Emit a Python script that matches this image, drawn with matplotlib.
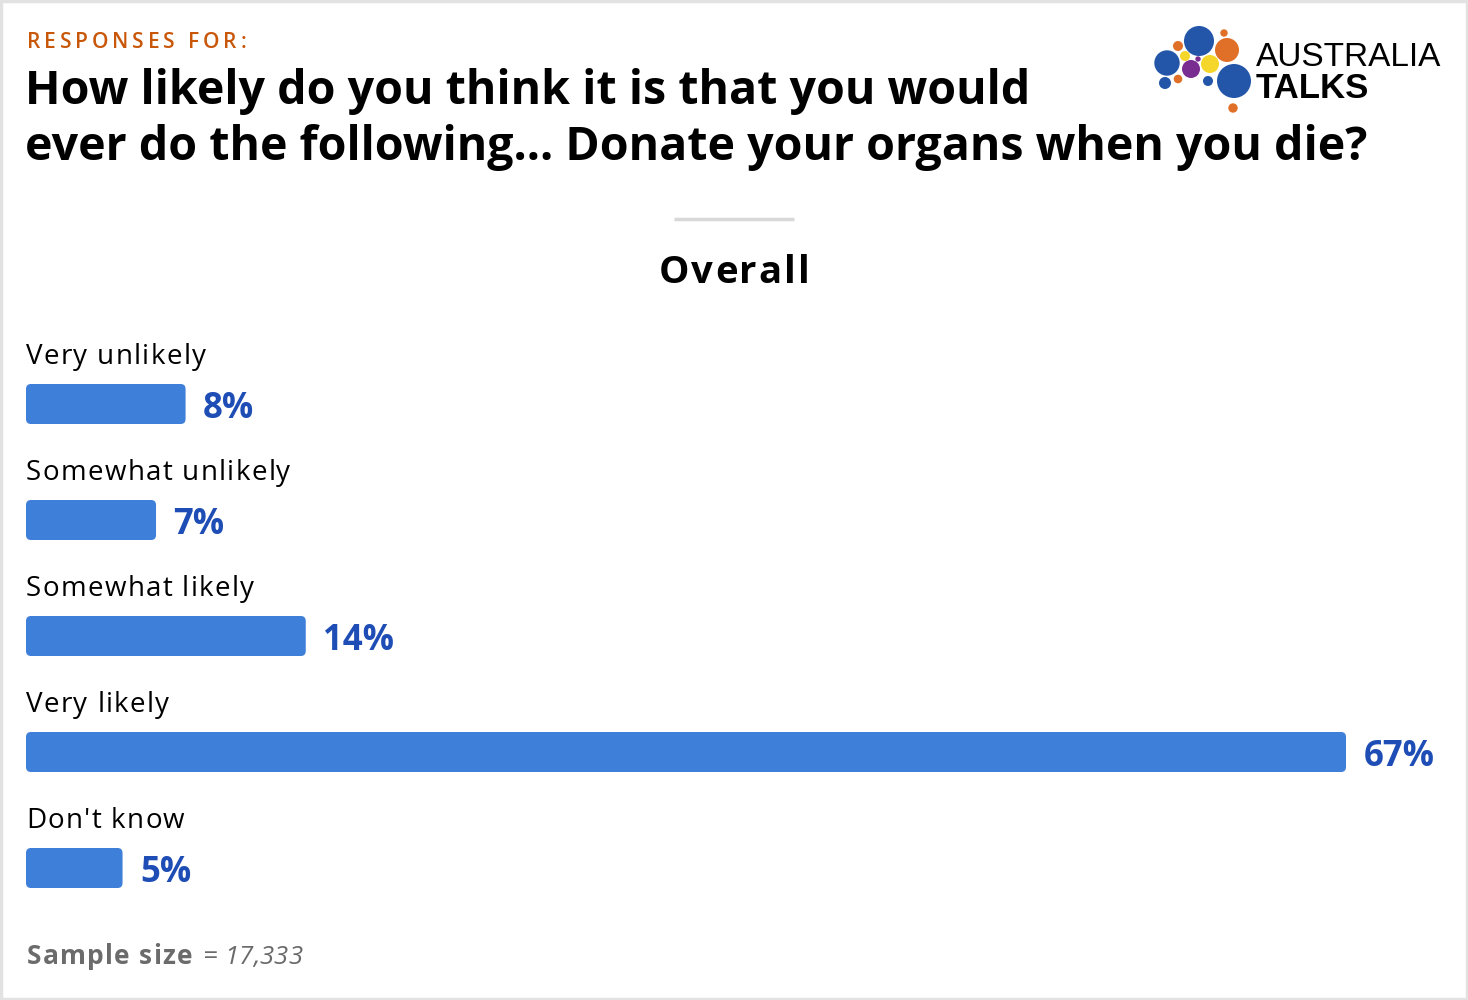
import numpy as np
import matplotlib
matplotlib.use('Agg')
import matplotlib.pyplot as plt
from matplotlib.patches import FancyBboxPatch, Circle, Rectangle
from matplotlib.font_manager import FontProperties
from matplotlib.textpath import TextToPath

# data
categories = ['Very unlikely', 'Somewhat unlikely', 'Somewhat likely', 'Very likely', "Don't know"]
values = [8.1, 6.6, 14.2, 67.0, 4.9]
sample_size = '17,333'

W, H = 1468, 1000
DPI = 100
BAR_COLOR = '#3d7fd9'
LABEL_COLOR = '#1d4db5'
FONT = 'Open Sans'

fig = plt.figure(figsize=(W / DPI, H / DPI), dpi=DPI)
fig.patch.set_facecolor('white')

# overlay axes in pixel units for all the decorations
ax0 = fig.add_axes([0, 0, 1, 1])
ax0.set_xlim(0, W)
ax0.set_ylim(H, 0)
ax0.axis('off')
ax0.add_patch(Rectangle((1, 1), W - 2, H - 2, fill=False, ec='#e2e2e2', lw=2.5))

t2p = TextToPath()


def spaced_text(x, y, s, size, spacing, weight='normal', style='normal', **kw):
    # draw letter by letter to get tracking, returns end x
    prop = FontProperties(family=FONT, weight=weight, style=style, size=size)
    for ch in s:
        ax0.text(x, y, ch, fontproperties=prop, va='baseline', ha='left', **kw)
        w, _, _ = t2p.get_text_width_height_descent(ch, prop, ismath=False)
        x += w * DPI / 72 + spacing
    return x - spacing


def spaced_width(s, size, spacing, weight='normal'):
    prop = FontProperties(family=FONT, weight=weight, size=size)
    tot = 0
    for ch in s:
        w, _, _ = t2p.get_text_width_height_descent(ch, prop, ismath=False)
        tot += w * DPI / 72 + spacing
    return tot - spacing


# header
spaced_text(27, 48, 'RESPONSES FOR:', 15, 3.9, color='#c8570a', weight='semibold')
ax0.text(25, 104, 'How likely do you think it is that you would', fontsize=33.5, fontweight='bold',
         family=FONT, va='baseline', color='black')
ax0.text(25, 160, 'ever do the following... Donate your organs when you die?', fontsize=33.5,
         fontweight='bold', family=FONT, va='baseline', color='black')

# logo
circles = [(1199, 41, 15, '#2356a8'), (1227, 50, 12, '#e07028'), (1224, 33, 3.7, '#e07028'),
           (1178, 46, 5, '#e07028'), (1167, 63, 12.7, '#2356a8'), (1185, 56, 5, '#f5d62a'),
           (1198, 59, 2.7, '#7a2d90'), (1210, 64, 9, '#f5d62a'), (1191, 69, 9, '#7a2d90'),
           (1234, 81, 17, '#2356a8'), (1165, 83, 6, '#2356a8'), (1178, 79, 4.3, '#e07028'),
           (1208, 81, 5, '#2356a8'), (1233, 108, 4.7, '#e07028')]
for cx, cy, r, c in circles:
    ax0.add_patch(Circle((cx, cy), r, color=c, lw=0))
ax0.text(1256, 66, 'AUSTRALIA', fontsize=24, family='Liberation Sans',
         va='baseline', color='black')
ax0.text(1256, 98, 'TALKS', fontsize=25, family='Liberation Sans', fontweight='bold',
         va='baseline', color='black')

# divider and panel title
ax0.plot([674, 794], [219, 219], color='#d8d8d8', lw=2.5, solid_capstyle='butt')
ow = spaced_width('Overall', 27.5, 2.0, weight='bold')
spaced_text(734 - ow / 2, 283, 'Overall', 27.5, 2.0, color='black', weight='bold')

# bars
x0, x1 = 26, 1446
top, bot = 346, 926
ax = fig.add_axes([x0 / W, 1 - bot / H, (x1 - x0) / W, (bot - top) / H])
xmax = 67.0 * (x1 - x0) / 1320
ax.set_xlim(0, xmax)
ax.set_ylim(len(categories) - 0.5, -0.5)
ax.axis('off')

bar_h = 40 / 116
px_x = (x1 - x0) / xmax
px_y = 116.0
for i, (cat, v) in enumerate(zip(categories, values)):
    box = FancyBboxPatch((0, i - bar_h / 2), v, bar_h,
                         boxstyle='round,pad=0,rounding_size=%f' % (5 / px_x),
                         mutation_aspect=px_x / px_y, fc=BAR_COLOR, ec='none')
    ax.add_patch(box)
    ax.annotate('%d%%' % round(v), xy=(v, i), xytext=(12.5, 0), textcoords='offset points',
                va='center_baseline', ha='left', fontsize=25, fontweight='bold', family=FONT,
                color=LABEL_COLOR)
    spaced_text(26, 364 + 116 * i, cat, 20, 1.3, weight='medium', color='black')

# footer
xe = spaced_text(27, 964, 'Sample size', 19, 1.2, weight='bold', color='#6b6b6b')
spaced_text(xe + 10, 964, '= ' + sample_size, 18.5, 0.2, style='italic', color='#6b6b6b')

fig.savefig('out.png', dpi=DPI, facecolor='white')
